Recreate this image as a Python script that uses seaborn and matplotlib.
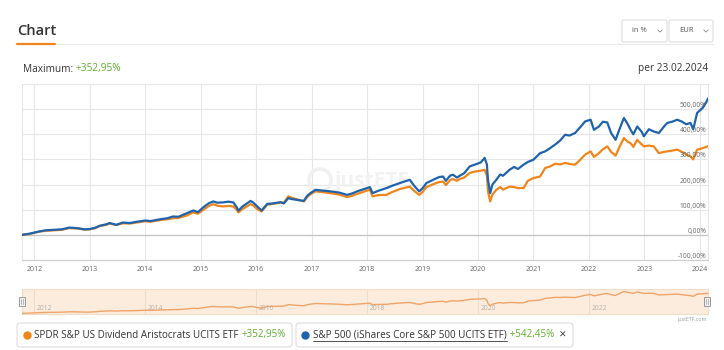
import matplotlib
matplotlib.use("Agg")
import numpy as np
import pandas as pd
import matplotlib.pyplot as plt
import seaborn as sns
from matplotlib.patches import Rectangle, FancyBboxPatch, Circle
from matplotlib.lines import Line2D
from matplotlib.transforms import IdentityTransform, blended_transform_factory, offset_copy


####################################################################################
## DATA (decimal year, performance in %)
####################################################################################
years = [2011.78, 2011.9,
         2012.0, 2012.1, 2012.2, 2012.35, 2012.5, 2012.63, 2012.8, 2012.9,
         2013.0, 2013.1, 2013.18, 2013.3, 2013.36, 2013.48, 2013.6, 2013.72, 2013.85,
         2014.0, 2014.1, 2014.27, 2014.4, 2014.5, 2014.6, 2014.75, 2014.87, 2014.95,
         2015.05, 2015.15, 2015.23, 2015.3, 2015.4, 2015.5, 2015.59, 2015.65, 2015.68, 2015.75, 2015.9, 2015.95,
         2016.02, 2016.1, 2016.2, 2016.3, 2016.44, 2016.5, 2016.58, 2016.65, 2016.74, 2016.86, 2016.92, 2016.98,
         2017.07, 2017.2, 2017.34, 2017.5, 2017.64, 2017.75, 2017.82, 2017.92,
         2018.0, 2018.05, 2018.1, 2018.2, 2018.35, 2018.45, 2018.59, 2018.7, 2018.77, 2018.85, 2018.94,
         2019.0, 2019.07, 2019.2, 2019.3, 2019.37, 2019.42, 2019.5, 2019.55, 2019.62, 2019.67, 2019.75, 2019.85, 2019.95,
         2020.05, 2020.12, 2020.16, 2020.18, 2020.22, 2020.26, 2020.33, 2020.4, 2020.45, 2020.57, 2020.65, 2020.72, 2020.82, 2020.9,
         2021.0, 2021.12, 2021.21, 2021.3, 2021.39, 2021.48, 2021.57, 2021.65, 2021.75, 2021.85, 2021.93,
         2022.03, 2022.09, 2022.18, 2022.25, 2022.33, 2022.4, 2022.48, 2022.55, 2022.63, 2022.7, 2022.75, 2022.8, 2022.87, 2022.95, 2022.99,
         2023.08, 2023.17, 2023.26, 2023.35, 2023.41, 2023.5, 2023.59, 2023.68, 2023.75, 2023.83, 2023.88, 2023.95,
         2024.05, 2024.12, 2024.146]

sp500 = [0, 4,
         9, 14, 18, 20, 22, 29, 26, 22,
         23, 28, 36, 42, 47, 40, 49, 47, 52,
         57, 55, 62, 66, 73, 72, 86, 97, 90,
         110, 126, 133, 128, 129, 132, 129, 110, 96, 112, 135, 128,
         113, 97, 123, 125, 130, 125, 146, 142, 139, 135, 155, 166,
         179, 176, 173, 168, 159, 166, 173, 180,
         186, 190, 166, 175, 186, 195, 206, 214, 219, 195, 173,
         185, 206, 220, 230, 232, 215, 236, 239, 228, 235, 245, 272, 280,
         288, 306, 280, 219, 166, 200, 219, 240, 235, 259, 270, 262, 279, 290,
         299, 325, 332, 345, 359, 375, 398, 395, 405, 430, 451,
         458, 418, 431, 450, 447, 405, 378, 420, 465, 440, 418, 400, 431, 410, 392,
         420, 411, 405, 430, 445, 450, 458, 450, 440, 445, 420, 485,
         505, 530, 542.45]

aristocrats = [0, 3,
               8, 13, 16, 18, 20, 27, 25, 21,
               22, 27, 35, 40, 45, 39, 46, 45, 49,
               54, 52, 59, 62, 66, 67, 77, 89, 84,
               100, 115, 122, 116, 113, 115, 113, 100, 89, 102, 122, 117,
               102, 93, 120, 123, 128, 128, 153, 147, 141, 133, 150, 162,
               173, 170, 166, 160, 150, 157, 163, 170,
               176, 180, 153, 158, 159, 170, 182, 188, 192, 175, 159,
               170, 190, 202, 210, 212, 198, 218, 222, 215, 222, 228, 246, 252,
               255, 259, 235, 173, 133, 160, 179, 190, 180, 192, 190, 186, 186, 215,
               226, 232, 266, 272, 283, 280, 286, 282, 279, 300, 319,
               332, 310, 325, 340, 352, 330, 315, 350, 385, 370, 365, 350, 378, 360, 352,
               355, 352, 325, 330, 332, 335, 339, 330, 320, 312, 300, 339,
               345, 350, 352.95]

fund_a = "SPDR S&P US Dividend Aristocrats UCITS ETF"
fund_b = "S&P 500 (iShares Core S&P 500 UCITS ETF)"
perf_a = "+352,95%"
perf_b = "+542,45%"

x_ticks = list(range(2012, 2025))
y_ticks = [-100, 0, 100, 200, 300, 400, 500]
y_tick_labels = ["-100,00%", "0,00%", "100,00%", "200,00%", "300,00%", "400,00%", "500,00%"]
nav_ticks = [2012, 2014, 2016, 2018, 2020, 2022]

####################################################################################
## STYLE
####################################################################################
orange = "#f0861b"
blue = "#1f63ad"
green = "#5fae2e"
dark = "#333333"
grid = "#e6e6e6"

sns.set_theme(style="white")
plt.rcParams["font.family"] = ["Open Sans", "DejaVu Sans"]

W, H = 724, 350


def fx(px):
    return px / W


def fy(py):
    return 1 - py / H


fig = plt.figure(figsize=(7.24, 3.5), dpi=100)
fig.patch.set_facecolor("white")

df = pd.DataFrame({"year": years, fund_a: aristocrats, fund_b: sp500})
long_df = df.melt(id_vars="year", var_name="fund", value_name="perf")

####################################################################################
## main chart
####################################################################################
x0, x1 = 2011.78, 2024.146
ax = fig.add_axes([fx(22), fy(260), fx(708) - fx(22), fy(84) - fy(260)])
sns.lineplot(data=long_df, x="year", y="perf", hue="fund", hue_order=[fund_a, fund_b],
             palette={fund_a: orange, fund_b: blue}, linewidth=1.6, legend=False, ax=ax, zorder=3)
ax.set_xlim(x0, x1)
ax.set_ylim(-100, 600)
ax.set_xticks(x_ticks)
ax.set_xticklabels([str(y) for y in x_ticks], fontsize=5, color="#666666")
ax.set_yticks(y_ticks + [600])
ax.tick_params(axis="y", left=False, labelleft=False)
ax.tick_params(axis="x", length=0, pad=4.5)
ax.grid(True, color=grid, linewidth=0.8)
ax.axhline(0, color="#c4c4c4", linewidth=0.9, zorder=2)
ax.set_xlabel("")
ax.set_ylabel("")
for side in ["left", "right"]:
    ax.spines[side].set_color(grid)
    ax.spines[side].set_linewidth(0.8)
ax.spines["top"].set_visible(False)
ax.spines["bottom"].set_color("#cccccc")
ax.spines["bottom"].set_linewidth(0.8)

trans = offset_copy(blended_transform_factory(ax.transAxes, ax.transData), fig=fig, x=-1.5, y=3.5, units="dots")
for v, lab in zip(y_ticks, y_tick_labels):
    ax.text(1, v, lab, transform=trans, ha="right", va="center", fontsize=4.8, color="#666666", zorder=4)

# faint watermark, kept under the lines
ax.add_patch(Circle((320, H - 180), 11, transform=IdentityTransform(), fill=False,
                    edgecolor="#f0f0f0", linewidth=2.5, zorder=1))
ax.text(334, H - 181, "justETF", transform=IdentityTransform(), fontsize=15, fontweight="bold",
        color="#f2f2f2", ha="left", va="center", zorder=1)

####################################################################################
## navigator
####################################################################################
nav = fig.add_axes([fx(22), fy(314), fx(708) - fx(22), fy(289) - fy(314)])
nav.set_facecolor("#fcecdd")
sns.lineplot(x=years, y=aristocrats, color="#f0a468", linewidth=1.0, ax=nav, zorder=3)
nav.set_xlim(x0, x1)
nav.set_ylim(-12, 430)
nav.set_xticks([])
nav.set_yticks([])
for t in nav_ticks:
    nav.axvline(t, color="#eadccf", linewidth=0.8, zorder=1)
    nav.text(t + 0.05, 0.1, str(t), transform=blended_transform_factory(nav.transData, nav.transAxes),
             fontsize=4.8, color="#b5b0ab", ha="left", va="bottom")
for side in ["left", "right", "top", "bottom"]:
    nav.spines[side].set_color("#f0dcc8")
    nav.spines[side].set_linewidth(0.8)

for hx in [22, 707]:
    fig.add_artist(Rectangle((hx - 3, H - 306), 6, 9, transform=IdentityTransform(),
                             facecolor="#f2f2f2", edgecolor="#999999", linewidth=0.7))
    fig.add_artist(Line2D([hx - 0.8, hx - 0.8], [H - 304, H - 299], transform=IdentityTransform(), color="#999999", linewidth=0.5))
    fig.add_artist(Line2D([hx + 0.8, hx + 0.8], [H - 304, H - 299], transform=IdentityTransform(), color="#999999", linewidth=0.5))

fig.text(fx(707), fy(319), "justETF.com", fontsize=3.8, color="#999999", ha="right", va="center")

####################################################################################
## header
####################################################################################
fig.text(fx(17), fy(31), "Chart", fontsize=10.5, fontweight="semibold", color=dark, ha="left", va="center")
fig.add_artist(Line2D([17, 713], [H - 44, H - 44], transform=IdentityTransform(), color="#e9e9e9", linewidth=0.8))
fig.add_artist(Line2D([17, 55], [H - 43.5, H - 43.5], transform=IdentityTransform(), color=orange, linewidth=1.6))

for (bx0, bx1, lab) in [(622, 667, "in %"), (669, 713, "EUR")]:
    fig.add_artist(FancyBboxPatch((bx0, H - 42), bx1 - bx0, 22, boxstyle="round,pad=0,rounding_size=2",
                                  transform=IdentityTransform(), facecolor="white", edgecolor="#dddddd", linewidth=0.8))
    fig.text(fx(bx0 + 10), fy(31), lab, fontsize=5.5, color="#555555", ha="left", va="center")
    cx = bx1 - 7
    fig.add_artist(Line2D([cx - 2.2, cx, cx + 2.2], [H - 30, H - 32, H - 30], transform=IdentityTransform(),
                          color="#888888", linewidth=0.6))

fig.canvas.draw()
r = fig.canvas.get_renderer()


def put(x, y, s, **kw):
    t = fig.text(fx(x), fy(y), s, ha="left", va="center", **kw)
    return x + t.get_window_extent(renderer=r).width


xe = put(23, 69, "Maximum: ", fontsize=7.3, color=dark)
put(xe, 69, perf_a, fontsize=7.3, color=green)
fig.text(fx(708), fy(69), "per 23.02.2024", fontsize=7.3, color=dark, ha="right", va="center")

####################################################################################
## legend boxes
####################################################################################
ly = 335
for (bx0, bx1) in [(17, 292), (296, 573)]:
    fig.add_artist(FancyBboxPatch((bx0, H - 347), bx1 - bx0, 24, boxstyle="round,pad=0,rounding_size=3",
                                  transform=IdentityTransform(), facecolor="white", edgecolor="#dddddd", linewidth=0.8))

fig.add_artist(Line2D([27], [H - ly], transform=IdentityTransform(), marker="o", markersize=5,
                      color=orange, linestyle="none"))
xe = put(34, ly, fund_a + " ", fontsize=7.1, color=dark)
put(xe, ly, perf_a, fontsize=7.1, color=green)

fig.add_artist(Line2D([305], [H - ly], transform=IdentityTransform(), marker="o", markersize=5,
                      color=blue, linestyle="none"))
xe = put(313, ly, fund_b, fontsize=7.1, color=dark)
fig.add_artist(Line2D([313, xe], [H - ly - 5.5, H - ly - 5.5], transform=IdentityTransform(), color=dark, linewidth=0.6))
xe = put(xe, ly, " " + perf_b, fontsize=7.1, color=green)
put(xe + 5, ly, "✕", fontsize=6.5, fontweight="bold", color="#444444", family=["DejaVu Sans"])

fig.savefig("out.png", dpi=100)
